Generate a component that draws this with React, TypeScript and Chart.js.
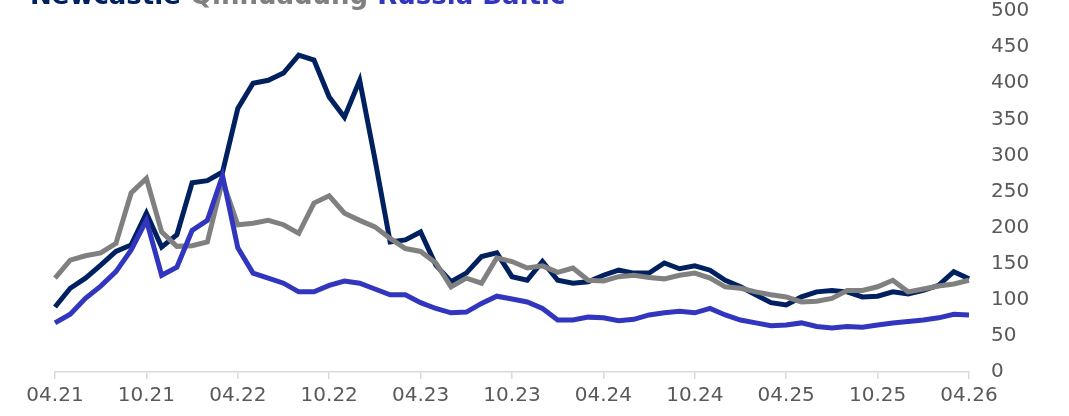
import React, { useEffect, useRef } from "react";
import { Chart, registerables } from "chart.js";

Chart.register(...registerables);

// Monthly categories 04.21 .. 04.26
const years = ["21", "22", "23", "24", "25", "26"];
const monthNames = ["01", "02", "03", "04", "05", "06", "07", "08", "09", "10", "11", "12"];
const categories: string[] = [];
years.forEach((y) => {
  monthNames.forEach((m) => {
    const key = `${m}.${y}`;
    if ((y === "21" && Number(m) < 4) || (y === "26" && Number(m) > 4)) return;
    categories.push(key);
  });
});

const tickLabels = ["04.21", "10.21", "04.22", "10.22", "04.23", "10.23", "04.24", "10.24", "04.25", "10.25", "04.26"];

const newcastle = [
  90, 116, 130, 148, 167, 176, 220, 173, 190, 262, 265, 277,
  365, 400, 404, 414, 439, 432, 381, 353, 404, 295, 180, 183,
  194, 148, 125, 137, 160, 165, 132, 127, 153, 127, 123, 125,
  134, 141, 137, 137, 151, 143, 147, 141, 127, 118, 107, 96,
  93, 104, 111, 113, 111, 104, 105, 111, 108, 113, 120, 139,
  129,
];

const qinhuangdao = [
  130, 155, 161, 165, 178, 248, 268, 194, 174, 175, 180, 265,
  204, 206, 210, 204, 192, 234, 244, 220, 210, 201, 185, 171,
  167, 151, 118, 130, 123, 158, 153, 144, 147, 138, 144, 127,
  126, 132, 134, 131, 129, 134, 137, 130, 118, 116, 111, 107,
  104, 97, 98, 102, 113, 113, 118, 127, 111, 115, 119, 122,
  127,
];

const russiaBaltic = [
  68, 80, 102, 119, 139, 169, 210, 134, 145, 196, 210, 272,
  172, 137, 130, 123, 111, 111, 120, 126, 123, 115, 107, 107,
  96, 88, 82, 83, 95, 105, 101, 97, 88, 72, 72, 76,
  75, 71, 73, 79, 82, 84, 82, 88, 79, 72, 68, 64,
  65, 68, 63, 61, 63, 62, 65, 68, 70, 72, 75, 80,
  79,
];

const seriesNames = ["Newcastle", "Qinhuadung", "Russia Baltic"];
const colNavy = "#002060";
const colGray = "#808080";
const colBlue = "#3236bf";

export default function App() {
  const canvasRef = useRef<HTMLCanvasElement | null>(null);

  useEffect(() => {
    const canvas = canvasRef.current;
    if (!canvas) return;
    const chart = new Chart(canvas, {
      type: "line",
      data: {
        labels: categories,
        datasets: [
          {
            label: seriesNames[2],
            data: russiaBaltic,
            borderColor: colBlue,
            backgroundColor: colBlue,
            borderWidth: 5,
            pointRadius: 0,
            tension: 0,
          },
          {
            label: seriesNames[1],
            data: qinhuangdao,
            borderColor: colGray,
            backgroundColor: colGray,
            borderWidth: 5,
            pointRadius: 0,
            tension: 0,
          },
          {
            label: seriesNames[0],
            data: newcastle,
            borderColor: colNavy,
            backgroundColor: colNavy,
            borderWidth: 5,
            pointRadius: 0,
            tension: 0,
          },
        ],
      },
      options: {
        animation: false,
        responsive: false,
        maintainAspectRatio: false,
        layout: { padding: { left: 55, top: 11, right: 0, bottom: 0 } },
        plugins: {
          legend: { display: false },
          tooltip: { enabled: false },
          title: { display: false },
        },
        scales: {
          x: {
            type: "category",
            offset: false,
            border: { display: true, color: "#d9d9d9", width: 1.5 },
            grid: {
              display: true,
              drawOnChartArea: false,
              drawTicks: true,
              tickLength: 7,
              color: "#d9d9d9",
              lineWidth: 1.5,
            },
            ticks: {
              autoSkip: false,
              maxRotation: 0,
              minRotation: 0,
              padding: 5,
              color: "#595959",
              font: { family: "DejaVu Sans", size: 20 },
              callback: function (_v: any, index: number) {
                const lab = categories[index];
                return tickLabels.includes(lab) ? lab : null;
              },
            },
            afterFit: (scale: any) => {
              scale.height = 44;
              scale.paddingLeft = 0;
              scale.paddingRight = 0;
            },
          },
          y: {
            position: "right",
            min: 0,
            max: 500,
            border: { display: false },
            grid: { display: false, drawTicks: false },
            ticks: {
              stepSize: 50,
              padding: 22,
              color: "#595959",
              font: { family: "DejaVu Sans", size: 20 },
            },
            afterFit: (scale: any) => {
              scale.width = 100;
              scale.paddingTop = 0;
              scale.paddingBottom = 0;
            },
          },
        },
      },
    });
    return () => chart.destroy();
  }, []);

  const titleStyle: React.CSSProperties = {
    position: "absolute",
    left: 30,
    top: -18,
    fontFamily: "DejaVu Sans",
    fontWeight: "bold",
    fontSize: 26,
    lineHeight: "26px",
    whiteSpace: "nowrap",
  };

  return (
    <div
      style={{
        position: "fixed",
        left: 0,
        top: 0,
        width: 1069,
        height: 416,
        overflow: "hidden",
        background: "#ffffff",
      }}
    >
      <canvas ref={canvasRef} width={1069} height={416} style={{ position: "absolute", left: 0, top: 0 }} />
      <div style={titleStyle}>
        <span style={{ color: colNavy }}>{seriesNames[0]}</span>{" "}
        <span style={{ color: colGray }}>{seriesNames[1]}</span>{" "}
        <span style={{ color: colBlue }}>{seriesNames[2]}</span>
      </div>
    </div>
  );
}
